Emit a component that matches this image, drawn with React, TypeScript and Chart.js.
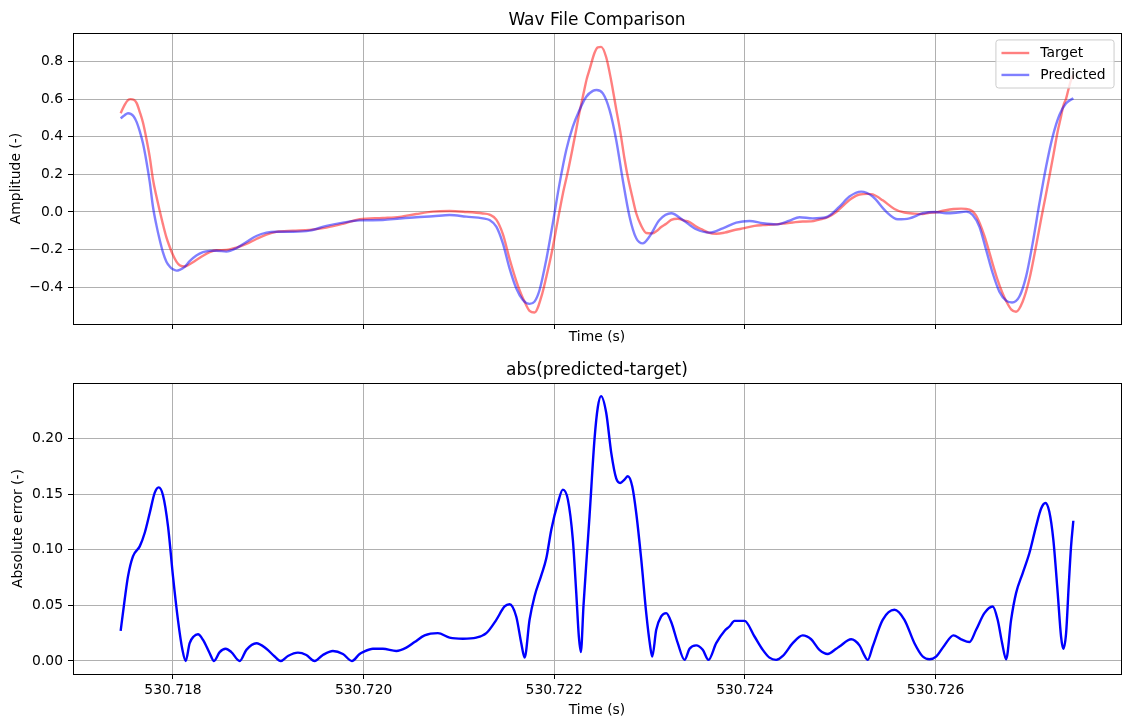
import React, { useEffect, useRef } from "react";
import { Chart, registerables } from "chart.js";

Chart.register(...registerables);

const FONT_FAMILY = "'DejaVu Sans', 'Liberation Sans', sans-serif";
const LABEL_PX = 13.89;
const TITLE_PX = 17;
const GRID_COLOR = "#b0b0b0";
const LINE_PX = 2.4;

// ---------- waveform comparison (seconds / amplitude) ----------
const targetTime = [
  530.717451, 530.717493, 530.717528, 530.717556, 530.717588, 530.717619, 530.717651, 530.717685, 530.717721, 530.717756,
  530.71779, 530.717826, 530.717861, 530.717895, 530.717931, 530.717965, 530.718, 530.718036, 530.71807, 530.718123,
  530.718175, 530.718245, 530.718315, 530.718385, 530.718455, 530.71856, 530.718665, 530.71877, 530.718875, 530.71898,
  530.719084, 530.719259, 530.719434, 530.719609, 530.719783, 530.719958, 530.720202, 530.720378, 530.720553, 530.720727,
  530.720902, 530.721077, 530.721251, 530.721321, 530.721392, 530.721461, 530.721531, 530.721601, 530.721654, 530.721689,
  530.721741, 530.721793, 530.721864, 530.721916, 530.721969, 530.722038, 530.72209, 530.722143, 530.722195, 530.722231,
  530.722258, 530.722279, 530.722307, 530.722342, 530.72237, 530.722423, 530.722457, 530.722491, 530.722545, 530.722598,
  530.72265, 530.722692, 530.722737, 530.722772, 530.722818, 530.72286, 530.722913, 530.722965, 530.723028, 530.72307,
  530.723122, 530.723175, 530.723227, 530.723296, 530.723367, 530.723419, 530.723489, 530.723558, 530.723618, 530.723699,
  530.723786, 530.723891, 530.723996, 530.724101, 530.724188, 530.724328, 530.724398, 530.724502, 530.724607, 530.724695,
  530.724782, 530.724869, 530.724958, 530.724992, 530.725115, 530.725202, 530.725289, 530.725341, 530.725446, 530.725569,
  530.725674, 530.725779, 530.725866, 530.725936, 530.726006, 530.726093, 530.726188, 530.726269, 530.726356, 530.726426,
  530.726513, 530.7266, 530.726652, 530.726699, 530.726741, 530.726793, 530.726845, 530.726915, 530.726985, 530.727055,
  530.727108, 530.727153, 530.727194, 530.727236, 530.727282, 530.727317, 530.727341, 530.72737, 530.727397, 530.727422,
  530.727446,
];
const targetAmplitude = [
  0.525, 0.57, 0.595, 0.6, 0.597, 0.579, 0.533, 0.476, 0.39, 0.293,
  0.173, 0.083, 0.006, -0.066, -0.135, -0.185, -0.229, -0.264, -0.283, -0.29,
  -0.278, -0.256, -0.233, -0.214, -0.204, -0.202, -0.19, -0.17, -0.144, -0.121,
  -0.106, -0.1, -0.095, -0.083, -0.063, -0.039, -0.032, -0.026, -0.011, 0.002,
  0.005, 0.0, -0.008, -0.014, -0.041, -0.118, -0.249, -0.366, -0.439, -0.478,
  -0.526, -0.535, -0.452, -0.347, -0.228, -0.042, 0.096, 0.215, 0.345, 0.439,
  0.513, 0.563, 0.63, 0.71, 0.757, 0.847, 0.876, 0.878, 0.823, 0.697,
  0.547, 0.43, 0.283, 0.186, 0.082, -0.007, -0.074, -0.112, -0.114, -0.103,
  -0.08, -0.063, -0.042, -0.036, -0.046, -0.054, -0.078, -0.095, -0.11, -0.116,
  -0.11, -0.096, -0.086, -0.074, -0.07, -0.066, -0.062, -0.056, -0.051, -0.05,
  -0.04, -0.028, 0.0, 0.015, 0.07, 0.093, 0.096, 0.093, 0.062, 0.016,
  -0.003, -0.009, -0.011, -0.004, -0.002, 0.008, 0.016, 0.018, 0.013, -0.019,
  -0.127, -0.277, -0.363, -0.427, -0.474, -0.518, -0.531, -0.476, -0.357, -0.181,
  -0.037, 0.078, 0.187, 0.301, 0.429, 0.508, 0.565, 0.603, 0.657, 0.701,
  0.731,
];

const predictedTime = [
  530.717451, 530.717493, 530.717528, 530.717556, 530.717588, 530.717619, 530.717651, 530.717685, 530.717721, 530.717756,
  530.71779, 530.717826, 530.717861, 530.717895, 530.717931, 530.717965, 530.718, 530.718036, 530.71807, 530.718123,
  530.718175, 530.718245, 530.718315, 530.718385, 530.718455, 530.71856, 530.718665, 530.71877, 530.718875, 530.71898,
  530.719084, 530.719259, 530.719434, 530.719609, 530.719783, 530.719958, 530.720202, 530.720378, 530.720553, 530.720727,
  530.720902, 530.721077, 530.721251, 530.721321, 530.721392, 530.721461, 530.721531, 530.721601, 530.721671, 530.721741,
  530.721793, 530.721846, 530.721916, 530.721985, 530.722056, 530.722126, 530.722195, 530.722265, 530.722336, 530.722405,
  530.722444, 530.72251, 530.72258, 530.72265, 530.722719, 530.72279, 530.72286, 530.722929, 530.722999, 530.723104,
  530.723227, 530.723349, 530.723489, 530.723629, 530.723768, 530.723909, 530.724048, 530.724188, 530.724328, 530.724468,
  530.724573, 530.724712, 530.724853, 530.724992, 530.725097, 530.72522, 530.725341, 530.725482, 530.725604, 530.725726,
  530.725866, 530.725999, 530.726111, 530.726216, 530.726321, 530.72639, 530.72646, 530.726531, 530.7266, 530.72667,
  530.726741, 530.726803, 530.72688, 530.72695, 530.727019, 530.72709, 530.72716, 530.727229, 530.7273, 530.72737,
  530.727446,
];
const predictedAmplitude = [
  0.498, 0.515, 0.525, 0.522, 0.508, 0.478, 0.43, 0.365, 0.27, 0.16,
  0.028, -0.07, -0.149, -0.215, -0.265, -0.29, -0.305, -0.312, -0.308, -0.292,
  -0.262, -0.232, -0.214, -0.207, -0.206, -0.211, -0.193, -0.16, -0.128, -0.11,
  -0.105, -0.105, -0.099, -0.074, -0.057, -0.045, -0.043, -0.035, -0.028, -0.023,
  -0.016, -0.025, -0.034, -0.043, -0.078, -0.167, -0.3, -0.406, -0.468, -0.489,
  -0.477, -0.415, -0.255, -0.06, 0.152, 0.33, 0.454, 0.543, 0.613, 0.644,
  0.649, 0.631, 0.543, 0.383, 0.17, -0.025, -0.14, -0.167, -0.131, -0.043,
  -0.007, -0.043, -0.092, -0.11, -0.087, -0.057, -0.048, -0.06, -0.066, -0.046,
  -0.028, -0.034, -0.028, 0.028, 0.082, 0.108, 0.082, 0.002, -0.039, -0.034,
  -0.007, 0.0, -0.007, -0.004, 0.002, -0.016, -0.078, -0.202, -0.326, -0.424,
  -0.472, -0.482, -0.45, -0.344, -0.167, 0.046, 0.241, 0.401, 0.516, 0.578,
  0.605,
];

// ---------- absolute error ----------
const errorTime = [
  530.717451, 530.717493, 530.717528, 530.71758, 530.717651, 530.717703, 530.717756, 530.717808, 530.71785, 530.717895,
  530.717948, 530.718, 530.718052, 530.718099, 530.718133, 530.718175, 530.718217, 530.718262, 530.718315, 530.718385,
  530.71843, 530.71849, 530.718553, 530.718612, 530.7187, 530.71877, 530.718875, 530.71898, 530.719067, 530.71913,
  530.719206, 530.719311, 530.719399, 530.719486, 530.719573, 530.719678, 530.719783, 530.719877, 530.719958, 530.719993,
  530.720098, 530.720202, 530.720343, 530.720448, 530.720535, 530.72064, 530.720779, 530.720902, 530.721041, 530.721182,
  530.721287, 530.721392, 530.721479, 530.721531, 530.721601, 530.721654, 530.721689, 530.721741, 530.721793, 530.721864,
  530.721916, 530.721969, 530.722038, 530.72209, 530.722143, 530.722195, 530.722231, 530.722258, 530.722279, 530.722307,
  530.722342, 530.72237, 530.722423, 530.722457, 530.722491, 530.722545, 530.722598, 530.72265, 530.722692, 530.722737,
  530.722772, 530.722818, 530.72286, 530.722913, 530.722965, 530.723007, 530.723028, 530.72307, 530.723122, 530.723175,
  530.723227, 530.723296, 530.723367, 530.723419, 530.723489, 530.723558, 530.723618, 530.723699, 530.723786, 530.723838,
  530.723891, 530.723996, 530.724101, 530.724188, 530.724258, 530.724328, 530.724398, 530.724502, 530.724607, 530.724695,
  530.724782, 530.724869, 530.724958, 530.724992, 530.725115, 530.725202, 530.725254, 530.725289, 530.725341, 530.725446,
  530.725569, 530.725674, 530.725779, 530.725866, 530.725936, 530.726006, 530.726093, 530.726188, 530.726269, 530.726356,
  530.726426, 530.726513, 530.7266, 530.726652, 530.726699, 530.726741, 530.726793, 530.726845, 530.726915, 530.726985,
  530.727055, 530.727108, 530.727153, 530.727194, 530.727236, 530.727282, 530.727317, 530.727341, 530.72737, 530.727397,
  530.727422, 530.727446,
];
const absoluteError = [
  0.027, 0.055, 0.076, 0.094, 0.103, 0.115, 0.133, 0.151, 0.156, 0.149,
  0.121, 0.076, 0.037, 0.01, 0.0, 0.016, 0.022, 0.024, 0.019, 0.007,
  0.0, 0.008, 0.011, 0.008, 0.0, 0.01, 0.016, 0.011, 0.004, 0.0,
  0.0045, 0.0075, 0.0054, 0.0, 0.0054, 0.009, 0.0063, 0.0, 0.0063, 0.008,
  0.011, 0.011, 0.009, 0.012, 0.017, 0.023, 0.025, 0.021, 0.02, 0.021,
  0.025, 0.037, 0.049, 0.051, 0.04, 0.016, 0.003, 0.037, 0.058, 0.077,
  0.092, 0.118, 0.142, 0.154, 0.145, 0.109, 0.061, 0.022, 0.008, 0.05,
  0.095, 0.13, 0.2, 0.228, 0.238, 0.223, 0.187, 0.164, 0.16, 0.163,
  0.166, 0.157, 0.133, 0.091, 0.043, 0.013, 0.004, 0.028, 0.04, 0.043,
  0.035, 0.016, 0.001, 0.011, 0.014, 0.01, 0.001, 0.016, 0.027, 0.031,
  0.036, 0.036, 0.022, 0.01, 0.003, 0.001, 0.0045, 0.016, 0.023, 0.0195,
  0.01, 0.0063, 0.011, 0.013, 0.0195, 0.014, 0.005, 0.001, 0.013, 0.037,
  0.046, 0.037, 0.016, 0.004, 0.0015, 0.004, 0.014, 0.023, 0.0195, 0.017,
  0.028, 0.043, 0.049, 0.037, 0.016, 0.0015, 0.037, 0.061, 0.079, 0.097,
  0.121, 0.137, 0.142, 0.134, 0.109, 0.061, 0.022, 0.011, 0.025, 0.067,
  0.103, 0.126,
];

// axis limits and tick steps
const timeLimits = [530.716951, 530.727946];
const amplitudeLimits = [-0.596, 0.952];
const errorLimits = [-0.0117, 0.2498];
const timeStep = 0.002;
const amplitudeStep = 0.2;
const errorStep = 0.05;

const toPoints = (xs: number[], ys: number[]) => xs.map((x, i) => ({ x, y: ys[i] }));

const fmt = (v: number, digits: number) => {
  const s = (Math.abs(v) < 1e-12 ? 0 : v).toFixed(digits);
  return s.replace("-", "\u2212");
};

const font = (size: number) => ({ family: FONT_FAMILY, size, weight: "normal" as const });

// black box around the plotting area
const framePlugin = {
  id: "axesFrame",
  afterDatasetsDraw(chart: any) {
    const { ctx, chartArea: a } = chart;
    ctx.save();
    ctx.strokeStyle = "#000";
    ctx.lineWidth = 1;
    const l = Math.round(a.left) + 0.5;
    const r = Math.round(a.right) + 0.5;
    const t = Math.round(a.top) + 0.5;
    const b = Math.round(a.bottom) + 0.5;
    ctx.strokeRect(l, t, r - l, b - t);
    ctx.restore();
  },
};

function panelTitle(text: string) {
  return {
    id: "panelTitle",
    afterDraw(chart: any) {
      const { ctx, chartArea: a } = chart;
      ctx.save();
      ctx.font = `${TITLE_PX}px ${FONT_FAMILY}`;
      ctx.fillStyle = "#000";
      ctx.textAlign = "center";
      ctx.textBaseline = "alphabetic";
      ctx.fillText(text, (a.left + a.right) / 2, a.top - 8.3);
      ctx.restore();
    },
  };
}

function cornerLegend(items: { label: string; color: string }[]) {
  return {
    id: "cornerLegend",
    afterDatasetsDraw(chart: any) {
      const { ctx, chartArea: a } = chart;
      const fs = LABEL_PX;
      ctx.save();
      ctx.font = `${fs}px ${FONT_FAMILY}`;
      const textW = Math.max(...items.map((it) => ctx.measureText(it.label).width));
      const pad = 0.4 * fs;
      const handle = 2 * fs;
      const gap = 0.8 * fs;
      const rowH = 1.08 * fs;
      const rowGap = 0.5 * fs;
      const w = 2 * pad + handle + gap + textW + 3;
      const h = 2 * pad + items.length * rowH + (items.length - 1) * rowGap;
      const right = a.right - 0.5 * fs;
      const top = a.top + 0.5 * fs;
      const left = right - w;
      ctx.beginPath();
      ctx.roundRect(left, top, w, h, 0.2 * fs);
      ctx.fillStyle = "rgba(255,255,255,0.8)";
      ctx.fill();
      ctx.strokeStyle = "#cccccc";
      ctx.lineWidth = 1;
      ctx.stroke();
      items.forEach((it, i) => {
        const cy = top + pad + rowH / 2 + i * (rowH + rowGap);
        ctx.beginPath();
        ctx.moveTo(left + pad, cy);
        ctx.lineTo(left + pad + handle, cy);
        ctx.strokeStyle = it.color;
        ctx.lineWidth = LINE_PX;
        ctx.stroke();
        ctx.fillStyle = "#000";
        ctx.textAlign = "left";
        ctx.textBaseline = "middle";
        ctx.fillText(it.label, left + pad + handle + gap, cy);
      });
      ctx.restore();
    },
  };
}

const gridOptions = {
  color: GRID_COLOR,
  lineWidth: 1,
  drawTicks: true,
  tickLength: 5,
  tickColor: "#000",
  tickWidth: 1,
};

function timeAxis(showLabels: boolean, height: number, titleBottom: number) {
  return {
    type: "linear",
    min: timeLimits[0],
    max: timeLimits[1],
    ticks: {
      display: showLabels,
      stepSize: timeStep,
      includeBounds: false,
      autoSkip: false,
      maxRotation: 0,
      padding: 3,
      color: "#000",
      font: font(LABEL_PX),
      callback: (v: number) => fmt(v, 3),
    },
    grid: gridOptions,
    border: { display: false },
    title: {
      display: true,
      text: "Time (s)",
      color: "#000",
      font: font(LABEL_PX),
      padding: { top: 0, bottom: titleBottom },
    },
    afterFit: (s: any) => {
      s.height = height;
    },
  };
}

function valueAxis(limits: number[], step: number, digits: number, title: string, titleOffset: number) {
  return {
    type: "linear",
    min: limits[0],
    max: limits[1],
    ticks: {
      stepSize: step,
      includeBounds: false,
      padding: 5,
      color: "#000",
      font: font(LABEL_PX),
      callback: (v: number) => fmt(v, digits),
    },
    grid: gridOptions,
    border: { display: false },
    title: {
      display: true,
      text: title,
      color: "#000",
      font: font(LABEL_PX),
      padding: { top: titleOffset, bottom: 0 },
    },
    afterFit: (s: any) => {
      s.width = 73;
    },
  };
}

const baseOptions = (top: number) => ({
  animation: false,
  responsive: true,
  maintainAspectRatio: false,
  events: [],
  layout: { padding: { top, right: 2, bottom: 0, left: 0 } },
  plugins: {
    legend: { display: false },
    tooltip: { enabled: false },
    title: { display: false },
  },
});

const TARGET_COLOR = "rgba(255,0,0,0.5)";
const PREDICTED_COLOR = "rgba(0,0,255,0.5)";

function comparisonConfig(): any {
  return {
    type: "line",
    data: {
      datasets: [
        {
          label: "Target",
          data: toPoints(targetTime, targetAmplitude),
          borderColor: TARGET_COLOR,
          borderWidth: LINE_PX,
          pointRadius: 0,
          cubicInterpolationMode: "monotone",
          fill: false,
          order: 2,
        },
        {
          label: "Predicted",
          data: toPoints(predictedTime, predictedAmplitude),
          borderColor: PREDICTED_COLOR,
          borderWidth: LINE_PX,
          pointRadius: 0,
          cubicInterpolationMode: "monotone",
          fill: false,
          order: 1,
        },
      ],
    },
    options: {
      ...baseOptions(33),
      scales: {
        x: timeAxis(false, 23, 1),
        y: valueAxis(amplitudeLimits, amplitudeStep, 1, "Amplitude (-)", 8),
      },
    },
    plugins: [
      framePlugin,
      cornerLegend([
        { label: "Target", color: TARGET_COLOR },
        { label: "Predicted", color: PREDICTED_COLOR },
      ]),
      panelTitle("Wav File Comparison"),
    ],
  };
}

function errorConfig(): any {
  return {
    type: "line",
    data: {
      datasets: [
        {
          label: "abs(predicted-target)",
          data: toPoints(errorTime, absoluteError),
          borderColor: "#0000ff",
          borderWidth: LINE_PX,
          pointRadius: 0,
          cubicInterpolationMode: "monotone",
          fill: false,
        },
      ],
    },
    options: {
      ...baseOptions(36),
      scales: {
        x: timeAxis(true, 48, 3),
        y: valueAxis(errorLimits, errorStep, 2, "Absolute error (-)", 10),
      },
    },
    plugins: [framePlugin, panelTitle("abs(predicted-target)")],
  };
}

function Panel({ makeConfig, style }: { makeConfig: () => any; style: React.CSSProperties }) {
  const ref = useRef<HTMLCanvasElement>(null);
  useEffect(() => {
    const chart = new Chart(ref.current as HTMLCanvasElement, makeConfig());
    return () => chart.destroy();
  }, [makeConfig]);
  return (
    <div style={style}>
      <canvas ref={ref} />
    </div>
  );
}

export default function App() {
  return (
    <div
      style={{
        position: "fixed",
        left: 0,
        top: 0,
        width: 1123,
        height: 722,
        background: "#fff",
        overflow: "hidden",
      }}
    >
      <Panel
        makeConfig={comparisonConfig}
        style={{ position: "absolute", left: 0, top: 0, width: 1123, height: 347 }}
      />
      <Panel
        makeConfig={errorConfig}
        style={{ position: "absolute", left: 0, top: 347, width: 1123, height: 375 }}
      />
    </div>
  );
}
